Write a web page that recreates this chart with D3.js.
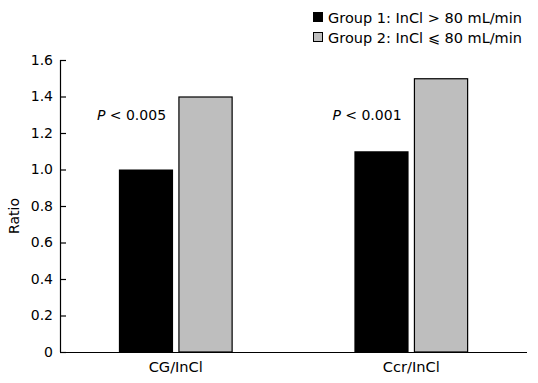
<!DOCTYPE html>
<html>
<head>
<meta charset="utf-8">
<script src="https://cdn.jsdelivr.net/npm/d3@7"></script>
<style>
  html, body { margin: 0; padding: 0; background: #fff; }
  svg { display: block; }
  text { font-family: "DejaVu Sans", Verdana, sans-serif; }
</style>
</head>
<body>
<svg id="chart" width="538" height="383"></svg>
<script>
const categories = ["CG/InCl", "Ccr/InCl"];
const groups = ["Group 1", "Group 2"];
const group1Values = [1.00, 1.10];
const group2Values = [1.40, 1.50];
const pLabels = ["< 0.005", "< 0.001"];
const legendLabels = ["Group 1: InCl > 80 mL/min", "Group 2: InCl \u2A7D 80 mL/min"];
const yTicks = [0, 0.2, 0.4, 0.6, 0.8, 1.0, 1.2, 1.4, 1.6];
const colors = ["#000000", "#bebebe"];

const svg = d3.select("#chart");
const margin = { left: 60, right: 11, top: 60, bottom: 31 };
const W = 538, H = 383;

const y = d3.scaleLinear().domain([0, 1.6]).range([H - margin.bottom, margin.top]);
const x = d3.scaleBand().domain(categories).range([margin.left, W - margin.right])
  .paddingInner(0.517).paddingOuter(0.25);
const xs = d3.scaleBand().domain(groups).range([0, x.bandwidth()]).paddingInner(0.09);

const data = categories.map((c, i) => ({ cat: c, vals: [group1Values[i], group2Values[i]] }));

// bars
const g = svg.append("g");
data.forEach(d => {
  d.vals.forEach((v, j) => {
    g.append("rect")
      .attr("x", x(d.cat) + xs(groups[j]) + (j === 1 ? 0.5 : 0))
      .attr("y", y(v) + (j === 1 ? 0.5 : 0))
      .attr("width", xs.bandwidth() - (j === 1 ? 1 : 0))
      .attr("height", y(0) - y(v) - (j === 1 ? 0.5 : 0))
      .attr("fill", colors[j])
      .attr("stroke", j === 1 ? "#000" : "none")
      .attr("stroke-width", j === 1 ? 1.2 : 0);
  });
});

// y axis
const yAxis = d3.axisLeft(y).tickValues(yTicks).tickSize(-6).tickPadding(7)
  .tickFormat(d => d === 0 ? "0" : d3.format(".1f")(d));
const ya = svg.append("g").attr("transform", `translate(${margin.left},0)`).call(yAxis);
ya.select(".domain").attr("d", `M0.5,${y(1.6)}V${y(0)}`).attr("stroke", "#000").attr("stroke-width", 1.2);
ya.selectAll(".tick line").attr("stroke", "#000").attr("stroke-width", 1.2);
ya.selectAll(".tick text").attr("font-size", 14).attr("fill", "#000")
  .attr("font-family", "DejaVu Sans, Verdana, sans-serif");

// x axis
const xAxis = d3.axisBottom(x).tickSize(0).tickPadding(10);
const xa = svg.append("g").attr("transform", `translate(0,${y(0)})`).call(xAxis);
xa.select(".domain").attr("d", `M${margin.left},0.5H${W - margin.right}`).attr("stroke", "#000").attr("stroke-width", 1.2);
xa.selectAll(".tick text").attr("font-size", 14.6).attr("fill", "#000")
  .attr("font-family", "DejaVu Sans, Verdana, sans-serif");

// y label
svg.append("text")
  .attr("transform", `translate(19,${(y(0) + y(1.6)) / 2 + 10}) rotate(-90)`)
  .attr("text-anchor", "middle").attr("font-size", 14).attr("fill", "#000")
  .text("Ratio");

// p labels
data.forEach((d, i) => {
  const t = svg.append("text")
    .attr("x", x(d.cat) - 22).attr("y", y(1.27))
    .attr("font-size", 14).attr("fill", "#000");
  t.append("tspan").attr("font-style", "italic").text("P");
  t.append("tspan").text(" " + pLabels[i]);
});

// legend
const lg = svg.append("g").attr("transform", "translate(313,12)");
legendLabels.forEach((l, i) => {
  const row = lg.append("g").attr("transform", `translate(0,${i * 20})`);
  row.append("rect").attr("x", i === 1 ? 0.5 : 0).attr("y", i === 1 ? 0.5 : 0)
    .attr("width", i === 1 ? 9 : 10).attr("height", i === 1 ? 9 : 10)
    .attr("fill", colors[i]).attr("stroke", i === 1 ? "#000" : "none").attr("stroke-width", 1);
  row.append("text").attr("x", 15).attr("y", 10.5).attr("font-size", 14.5).attr("fill", "#000").text(l);
});
</script>
</body>
</html>
